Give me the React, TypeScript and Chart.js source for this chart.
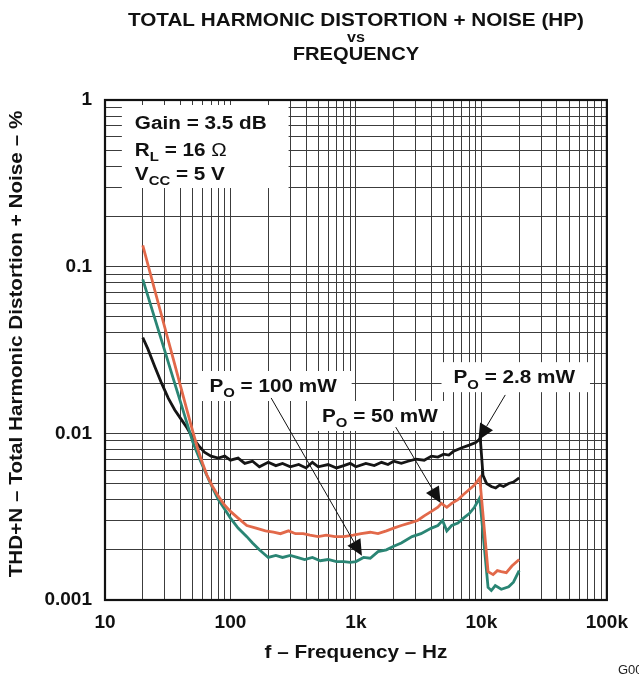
import React, { useEffect, useRef } from 'react';
import { Chart, registerables } from 'chart.js';

Chart.register(...registerables);

const FONT = '"Liberation Sans", Arial, Helvetica, sans-serif';

// ---- data (frequency in Hz, THD+N in %) ----
const FREQ_2P8MW = [20, 22, 25, 28, 32, 36, 40, 45, 50, 56, 62, 70, 80, 90, 100, 115, 130, 150, 170, 200, 230, 260, 300, 350, 400, 450, 500, 600, 700, 800, 900, 1000, 1200, 1400, 1600, 1800, 2000, 2300, 2600, 3000, 3500, 4000, 4500, 5000, 5500, 6000, 7000, 8000, 9000, 9800, 10300, 11000, 12000, 13000, 14000, 15000, 16500, 18000, 20000];
const THD_2P8MW = [0.0375, 0.032, 0.025, 0.0203, 0.0162, 0.0138, 0.0123, 0.0108, 0.0094, 0.0084, 0.0077, 0.0073, 0.0071, 0.0073, 0.0069, 0.0071, 0.0066, 0.0068, 0.0063, 0.0067, 0.0064, 0.0066, 0.0063, 0.0065, 0.0062, 0.0067, 0.0063, 0.0065, 0.0062, 0.0064, 0.0066, 0.0063, 0.0066, 0.0064, 0.0067, 0.0065, 0.0068, 0.0066, 0.0068, 0.0070, 0.0069, 0.0073, 0.0072, 0.0075, 0.0074, 0.0078, 0.0082, 0.0085, 0.0088, 0.0093, 0.0056, 0.0050, 0.0048, 0.0047, 0.0049, 0.0048, 0.0050, 0.0051, 0.0054];

const FREQ_50MW = [20, 25, 30, 35, 40, 45, 50, 55, 60, 65, 72, 80, 90, 100, 115, 135, 160, 190, 220, 250, 290, 330, 380, 430, 500, 580, 680, 800, 950, 1100, 1300, 1500, 1750, 2000, 2300, 2700, 3100, 3500, 4000, 4500, 4800, 5300, 5800, 6500, 7200, 8000, 8800, 9700, 11300, 12400, 13400, 14400, 15800, 17500, 20000];
const THD_50MW = [0.134, 0.0717, 0.043, 0.028, 0.0192, 0.0138, 0.0103, 0.0080, 0.0066, 0.0056, 0.0048, 0.0042, 0.0037, 0.0034, 0.0031, 0.0028, 0.0027, 0.0026, 0.00255, 0.0025, 0.0026, 0.0025, 0.0025, 0.00245, 0.0024, 0.00245, 0.0024, 0.0024, 0.00245, 0.0025, 0.00255, 0.0025, 0.0026, 0.0027, 0.0028, 0.0029, 0.0030, 0.0032, 0.0034, 0.0036, 0.0038, 0.0036, 0.0038, 0.0040, 0.0043, 0.0046, 0.0049, 0.0054, 0.00148, 0.00142, 0.0015, 0.00148, 0.00146, 0.0016, 0.00175];

const FREQ_100MW = [20, 25, 30, 35, 40, 45, 50, 56, 64, 72, 80, 90, 100, 115, 135, 150, 170, 200, 230, 260, 300, 340, 390, 450, 520, 600, 700, 800, 900, 1000, 1150, 1300, 1500, 1750, 2000, 2300, 2800, 3300, 4000, 4500, 4900, 5300, 5800, 6500, 7200, 8000, 8800, 9700, 11300, 12000, 12900, 14400, 16500, 18000, 20000];
const THD_100MW = [0.084, 0.0486, 0.0311, 0.0213, 0.0154, 0.0115, 0.0089, 0.0072, 0.0057, 0.0047, 0.0040, 0.0035, 0.0031, 0.0027, 0.0024, 0.0022, 0.0020, 0.0018, 0.00185, 0.0018, 0.00185, 0.0018, 0.00175, 0.0018, 0.00172, 0.00175, 0.0017, 0.0017, 0.00168, 0.0017, 0.0018, 0.00178, 0.00195, 0.002, 0.0021, 0.0022, 0.0024, 0.0025, 0.0027, 0.0028, 0.0030, 0.0026, 0.0028, 0.0029, 0.0031, 0.0033, 0.0036, 0.0041, 0.00119, 0.00114, 0.00122, 0.00116, 0.0012, 0.00128, 0.0015];

// ---- axes ----
const X_MIN = 10;
const X_MAX = 100000;
const Y_MIN = 0.001;
const Y_MAX = 1;
const X_TICK_VALUES = [10, 100, 1000, 10000, 100000];
const X_TICK_TEXT = ['10', '100', '1k', '10k', '100k'];
const Y_TICK_VALUES = [0.001, 0.01, 0.1, 1];
const Y_TICK_TEXT = ['0.001', '0.01', '0.1', '1'];

// ---- text ----
const TITLE_LINES = ['TOTAL HARMONIC DISTORTION + NOISE (HP)', 'vs', 'FREQUENCY'];
const X_TITLE = 'f – Frequency – Hz';
const Y_TITLE = 'THD+N – Total Harmonic Distortion + Noise – %';
const FIG_ID = 'G00';

type Part = { t: string; sub?: boolean; normal?: boolean };

const CONDITION_LINES: Part[][] = [
  [{ t: 'Gain = 3.5 dB' }],
  [{ t: 'R' }, { t: 'L', sub: true }, { t: ' = 16 ' }, { t: 'Ω', normal: true }],
  [{ t: 'V' }, { t: 'CC', sub: true }, { t: ' = 5 V' }],
];
// anchor (left frequency, baseline values) in data coordinates
const CONDITION_X = 17.3;
const CONDITION_Y = [0.67, 0.461, 0.331];

const CURVE_LABELS: Part[][] = [
  [{ t: 'P' }, { t: 'O', sub: true }, { t: ' = 100 mW' }],
  [{ t: 'P' }, { t: 'O', sub: true }, { t: ' = 50 mW' }],
  [{ t: 'P' }, { t: 'O', sub: true }, { t: ' = 2.8 mW' }],
];
const LABEL_ANCHORS = [[68, 0.0177], [537, 0.0117], [5995, 0.0200]];
const ARROW_FROM = [[211, 0.0163], [2076, 0.0109], [15500, 0.017]];
const ARROW_TO = [[1116, 0.00184], [4730, 0.00382], [9460, 0.0091]];

const SX = 1.15; // horizontal stretch of the original typeface
const LABEL_SIZE = 18;

function decadeTicks(min: number, max: number): number[] {
  const out: number[] = [];
  for (let d = min; d < max * 0.999; d *= 10) {
    for (let k = 1; k <= 9; k++) out.push(Number((k * d).toPrecision(6)));
  }
  out.push(max);
  return out;
}

function labelFor(values: number[], texts: string[], v: number): string {
  const i = values.findIndex((x) => Math.abs(x - v) / x < 1e-6);
  return i >= 0 ? texts[i] : '';
}

function fontOf(size: number, normal?: boolean) {
  return `${normal ? 'normal' : 'bold'} ${size}px ${FONT}`;
}

function measureRich(ctx: CanvasRenderingContext2D, parts: Part[], size: number) {
  let w = 0;
  for (const p of parts) {
    ctx.font = fontOf(p.sub ? size * 0.72 : size, p.normal);
    w += ctx.measureText(p.t).width;
  }
  return w * SX;
}

function drawRich(ctx: CanvasRenderingContext2D, parts: Part[], x: number, y: number, size: number) {
  ctx.save();
  ctx.translate(x, y);
  ctx.scale(SX, 1);
  ctx.textAlign = 'left';
  ctx.textBaseline = 'alphabetic';
  ctx.fillStyle = '#111';
  let cx = 0;
  for (const p of parts) {
    const s = p.sub ? size * 0.72 : size;
    ctx.font = fontOf(s, p.normal);
    ctx.fillText(p.t, cx, p.sub ? size * 0.3 : 0);
    cx += ctx.measureText(p.t).width;
  }
  ctx.restore();
}

function drawStretched(ctx: CanvasRenderingContext2D, text: string, x: number, y: number, font: string, rot = 0) {
  ctx.save();
  ctx.translate(x, y);
  if (rot) ctx.rotate(rot);
  ctx.scale(SX, 1);
  ctx.font = font;
  ctx.fillText(text, 0, 0);
  ctx.restore();
}

const annotationPlugin = {
  id: 'annotations',
  beforeDatasetsDraw(chart: any) {
    const { ctx } = chart;
    const xs = chart.scales.x;
    const ys = chart.scales.y;
    ctx.save();
    const cx = xs.getPixelForValue(CONDITION_X);
    let maxW = 0;
    CONDITION_LINES.forEach((l) => (maxW = Math.max(maxW, measureRich(ctx, l, LABEL_SIZE))));
    const top = ys.getPixelForValue(CONDITION_Y[0]) - 24;
    const bottom = ys.getPixelForValue(CONDITION_Y[CONDITION_Y.length - 1]) + 8;
    ctx.fillStyle = '#ffffff';
    ctx.fillRect(cx - 13, top, maxW + 13 + 22, bottom - top);
    CURVE_LABELS.forEach((parts, i) => {
      const x = xs.getPixelForValue(LABEL_ANCHORS[i][0]);
      const y = ys.getPixelForValue(LABEL_ANCHORS[i][1]);
      const w = measureRich(ctx, parts, LABEL_SIZE);
      ctx.fillStyle = '#ffffff';
      ctx.fillRect(x - 12, y - 21, w + 12 + 15, 30);
    });
    ctx.restore();
  },
  afterDatasetsDraw(chart: any) {
    const { ctx } = chart;
    const xs = chart.scales.x;
    const ys = chart.scales.y;
    ctx.save();
    ARROW_FROM.forEach((from, i) => {
      const x0 = xs.getPixelForValue(from[0]);
      const y0 = ys.getPixelForValue(from[1]);
      const x1 = xs.getPixelForValue(ARROW_TO[i][0]);
      const y1 = ys.getPixelForValue(ARROW_TO[i][1]);
      const a = Math.atan2(y1 - y0, x1 - x0);
      const L = 16;
      const W = 7.5;
      const bx = x1 - L * Math.cos(a);
      const by = y1 - L * Math.sin(a);
      ctx.strokeStyle = '#111';
      ctx.lineWidth = 1;
      ctx.beginPath();
      ctx.moveTo(x0, y0);
      ctx.lineTo(bx, by);
      ctx.stroke();
      ctx.fillStyle = '#111';
      ctx.beginPath();
      ctx.moveTo(x1, y1);
      ctx.lineTo(bx - W * Math.sin(a), by + W * Math.cos(a));
      ctx.lineTo(bx + W * Math.sin(a), by - W * Math.cos(a));
      ctx.closePath();
      ctx.fill();
    });
    const cx = xs.getPixelForValue(CONDITION_X);
    CONDITION_LINES.forEach((l, i) => drawRich(ctx, l, cx, ys.getPixelForValue(CONDITION_Y[i]), LABEL_SIZE));
    CURVE_LABELS.forEach((parts, i) => {
      drawRich(ctx, parts, xs.getPixelForValue(LABEL_ANCHORS[i][0]), ys.getPixelForValue(LABEL_ANCHORS[i][1]), LABEL_SIZE);
    });
    ctx.restore();
  },
  afterDraw(chart: any) {
    const { ctx, chartArea } = chart;
    ctx.save();
    ctx.strokeStyle = '#111';
    ctx.lineWidth = 2.2;
    ctx.strokeRect(chartArea.left, chartArea.top, chartArea.right - chartArea.left, chartArea.bottom - chartArea.top);
    const midX = (chartArea.left + chartArea.right) / 2;
    ctx.fillStyle = '#111';
    ctx.textAlign = 'center';
    ctx.textBaseline = 'alphabetic';
    drawStretched(ctx, TITLE_LINES[0], midX, 26, fontOf(18));
    drawStretched(ctx, TITLE_LINES[1], midX, 41.5, fontOf(14));
    drawStretched(ctx, TITLE_LINES[2], midX, 59.5, fontOf(17.5));
    ctx.textBaseline = 'middle';
    drawStretched(ctx, X_TITLE, midX, 653, fontOf(18));
    drawStretched(ctx, Y_TITLE, 17, 344, fontOf(18), -Math.PI / 2);
    ctx.textAlign = 'left';
    ctx.fillStyle = '#222';
    ctx.font = fontOf(13, true);
    ctx.fillText(FIG_ID, 618, 670);
    ctx.restore();
  },
};

const GRID_COLOR = '#3c3c3c';

export default function App() {
  const ref = useRef<HTMLCanvasElement | null>(null);
  useEffect(() => {
    if (!ref.current) return;
    const mk = (f: number[], v: number[]) => f.map((x, i) => ({ x, y: v[i] }));
    const chart = new Chart(ref.current, {
      type: 'line',
      data: {
        datasets: [
          { label: 'PO = 50 mW', data: mk(FREQ_50MW, THD_50MW), borderColor: '#E2694A', borderWidth: 2.8, pointRadius: 0, tension: 0 },
          { label: 'PO = 100 mW', data: mk(FREQ_100MW, THD_100MW), borderColor: '#2A8574', borderWidth: 2.8, pointRadius: 0, tension: 0 },
          { label: 'PO = 2.8 mW', data: mk(FREQ_2P8MW, THD_2P8MW), borderColor: '#151515', borderWidth: 2.8, pointRadius: 0, tension: 0 },
        ],
      },
      options: {
        responsive: false,
        animation: false,
        devicePixelRatio: 1,
        layout: { padding: { top: 100, right: 30, bottom: 0, left: 0 } },
        plugins: { legend: { display: false }, tooltip: { enabled: false }, title: { display: false } },
        scales: {
          x: {
            type: 'logarithmic',
            min: X_MIN,
            max: X_MAX,
            afterBuildTicks: (s: any) => {
              s.ticks = decadeTicks(X_MIN, X_MAX).map((value) => ({ value }));
            },
            afterFit: (s: any) => {
              s.height = 79;
            },
            grid: { color: GRID_COLOR, lineWidth: 1, drawTicks: false },
            border: { display: false },
            ticks: {
              autoSkip: false,
              maxRotation: 0,
              padding: 11,
              color: '#111',
              font: { family: FONT, size: 19, weight: 'bold' },
              callback: (v: any) => labelFor(X_TICK_VALUES, X_TICK_TEXT, Number(v)),
            },
          },
          y: {
            type: 'logarithmic',
            min: Y_MIN,
            max: Y_MAX,
            afterBuildTicks: (s: any) => {
              s.ticks = decadeTicks(Y_MIN, Y_MAX).map((value) => ({ value }));
            },
            afterFit: (s: any) => {
              s.width = 105;
            },
            grid: { color: GRID_COLOR, lineWidth: 1, drawTicks: false },
            border: { display: false },
            ticks: {
              autoSkip: false,
              padding: 13,
              color: '#111',
              font: { family: FONT, size: 19, weight: 'bold' },
              callback: (v: any) => labelFor(Y_TICK_VALUES, Y_TICK_TEXT, Number(v)),
            },
          },
        },
      } as any,
      plugins: [annotationPlugin],
    });
    return () => chart.destroy();
  }, []);
  return (
    <div style={{ position: 'fixed', left: 0, top: 0, width: 639, height: 679, background: '#fff' }}>
      <canvas ref={ref} width={639} height={679} style={{ display: 'block' }} />
    </div>
  );
}
